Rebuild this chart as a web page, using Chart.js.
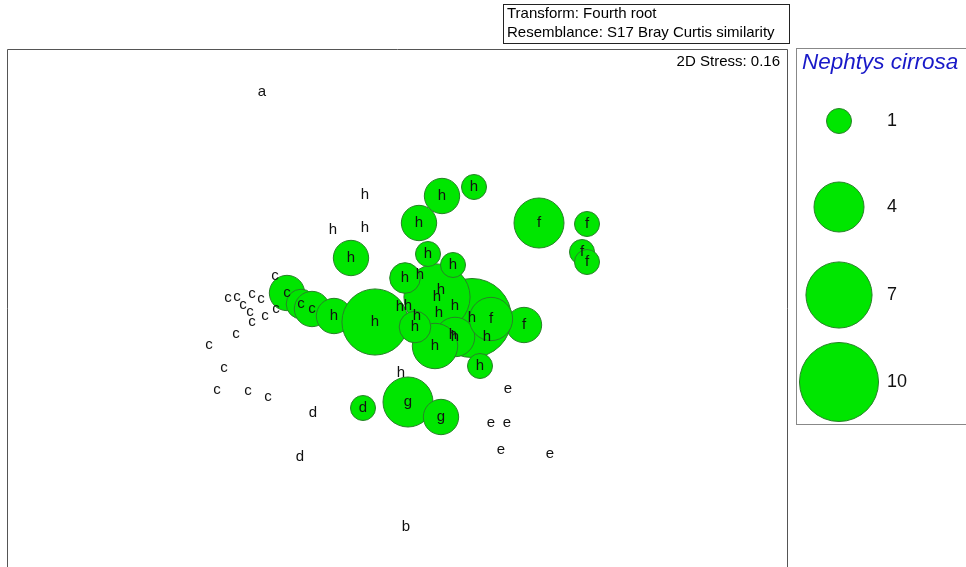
<!DOCTYPE html>
<html>
<head>
<meta charset="utf-8">
<script src="https://cdn.jsdelivr.net/npm/chart.js@4.4.0/dist/chart.umd.min.js"></script>
<style>
  body { margin: 0; background: #fff; }
  #wrap { width: 966px; height: 567px; }
</style>
</head>
<body>
<div id="wrap"><canvas id="mds" width="966" height="567"></canvas></div>
<script>
// sample group labels, MDS positions and Nephtys cirrosa abundance
const groups = [
  "a","b","h","h","h","h",
  "c","c","c","c","c","c","c","c","c","c","c","c","c","c","c","c",
  "d","d","e","e","e","e","e",
  "c","c","c","h","h","h","h","h","h",
  "f","f","f","f","f","g","g","d",
  "h","h","h","h","h","h","f",
  "h","h","h","h","h","h","h","h","h","h","h","h"
];
const mdsX = [
  262,406,365,365,333,401,
  275,228,237,252,243,261,250,252,265,276,236,209,224,217,248,268,
  313,300,508,491,507,501,550,
  287,301,312,334,375,351,419,442,474,
  539,587,582,587,524,408,441,363,
  472,437,455,435,405,415,491,
  487,428,453,420,441,400,408,417,439,455,453,480
];
const mdsY = [
  92,527,195,228,230,373,
  276,298,297,294,305,299,312,322,316,309,334,345,368,390,391,397,
  413,457,389,423,423,450,454,
  293,304,309,316,322,258,223,196,187,
  223,224,252,262,325,402,417,408,
  318,297,337,346,278,327,319,
  337,254,265,275,290,307,306,316,313,306,335,366
];
const abundance = [
  0,0,0,0,0,0,
  0,0,0,0,0,0,0,0,0,0,0,0,0,0,0,0,
  0,0,0,0,0,0,0,
  2,1.4,2,2,7,2,2,2,1,
  4,1,1,1,2,4,2,1,
  10,7,2.5,3.3,1.5,1.6,3,
  0,1,1,0,0,0,0,0,0,0,0,1
];
const legendValues = [1, 4, 7, 10];
const stressText = "2D Stress: 0.16";
const speciesName = "Nephtys cirrosa";
const headerLines = ["Transform: Fourth root", "Resemblance: S17 Bray Curtis similarity"];

const SIZE_K = 12.5; // radius = k * sqrt(abundance)
const GREEN = "rgb(0,230,0)";
const GREEN_EDGE = "rgb(40,130,40)";
const FONT = "Arial, 'Liberation Sans', sans-serif";

const points = mdsX.map((x, i) => ({ x: x, y: mdsY[i], r: SIZE_K * Math.sqrt(abundance[i]) }));

const groupLabels = {
  id: "groupLabels",
  afterDatasetsDraw(chart) {
    const ctx = chart.ctx;
    const meta = chart.getDatasetMeta(0);
    ctx.save();
    ctx.font = "15px " + FONT;
    ctx.fillStyle = "#111";
    ctx.textAlign = "center";
    ctx.textBaseline = "middle";
    meta.data.forEach((el, i) => ctx.fillText(groups[i], el.x, el.y));
    ctx.restore();
  }
};

const frame = {
  id: "frame",
  beforeDraw(chart) {
    const ctx = chart.ctx;
    ctx.save();
    ctx.fillStyle = "#fff";
    ctx.fillRect(0, 0, chart.width, chart.height);
    ctx.restore();
  },
  afterDraw(chart) {
    const ctx = chart.ctx;
    const a = chart.chartArea;
    ctx.save();
    // plot box (bottom edge falls outside the picture)
    ctx.strokeStyle = "#555";
    ctx.lineWidth = 1;
    ctx.beginPath();
    ctx.moveTo(a.left + 0.5, chart.height);
    ctx.lineTo(a.left + 0.5, a.top + 0.5);
    ctx.lineTo(a.right + 0.5, a.top + 0.5);
    ctx.lineTo(a.right + 0.5, chart.height);
    ctx.stroke();

    // header box
    ctx.strokeStyle = "#222";
    ctx.strokeRect(503.5, 4.5, 286, 39);
    ctx.fillStyle = "#000";
    ctx.font = "15px " + FONT;
    ctx.textAlign = "left";
    ctx.textBaseline = "middle";
    ctx.fillText(headerLines[0], 507, 14);
    ctx.fillText(headerLines[1], 507, 33);

    // stress
    ctx.textAlign = "right";
    ctx.fillText(stressText, a.right - 7, 62);

    // legend
    const lx = 796;
    ctx.strokeStyle = "#888";
    ctx.strokeRect(lx + 0.5, a.top - 0.5, 200, 376);
    ctx.font = "italic 22.5px " + FONT;
    ctx.fillStyle = "rgb(25,25,200)";
    ctx.textAlign = "left";
    ctx.fillText(speciesName, lx + 6, 63);
    const ys = [121, 207, 295, 382];
    legendValues.forEach((v, i) => {
      ctx.beginPath();
      ctx.arc(839, ys[i], SIZE_K * Math.sqrt(v), 0, Math.PI * 2);
      ctx.fillStyle = GREEN;
      ctx.fill();
      ctx.strokeStyle = GREEN_EDGE;
      ctx.stroke();
      ctx.fillStyle = "#111";
      ctx.font = "18px " + FONT;
      ctx.fillText(String(v), 887, ys[i]);
    });
    ctx.restore();
  }
};

new Chart(document.getElementById("mds"), {
  type: "bubble",
  data: {
    datasets: [{
      data: points,
      backgroundColor: GREEN,
      borderColor: GREEN_EDGE,
      borderWidth: 1,
      hoverRadius: 0,
      clip: false
    }]
  },
  options: {
    responsive: false,
    animation: false,
    events: [],
    layout: { autoPadding: false, padding: { left: 7, right: 179, top: 49, bottom: 0 } },
    scales: {
      x: { type: "linear", min: 7, max: 787, display: false },
      y: { type: "linear", min: 49, max: 567, reverse: true, display: false }
    },
    plugins: { legend: { display: false }, tooltip: { enabled: false } }
  },
  plugins: [frame, groupLabels]
});
</script>
</body>
</html>
